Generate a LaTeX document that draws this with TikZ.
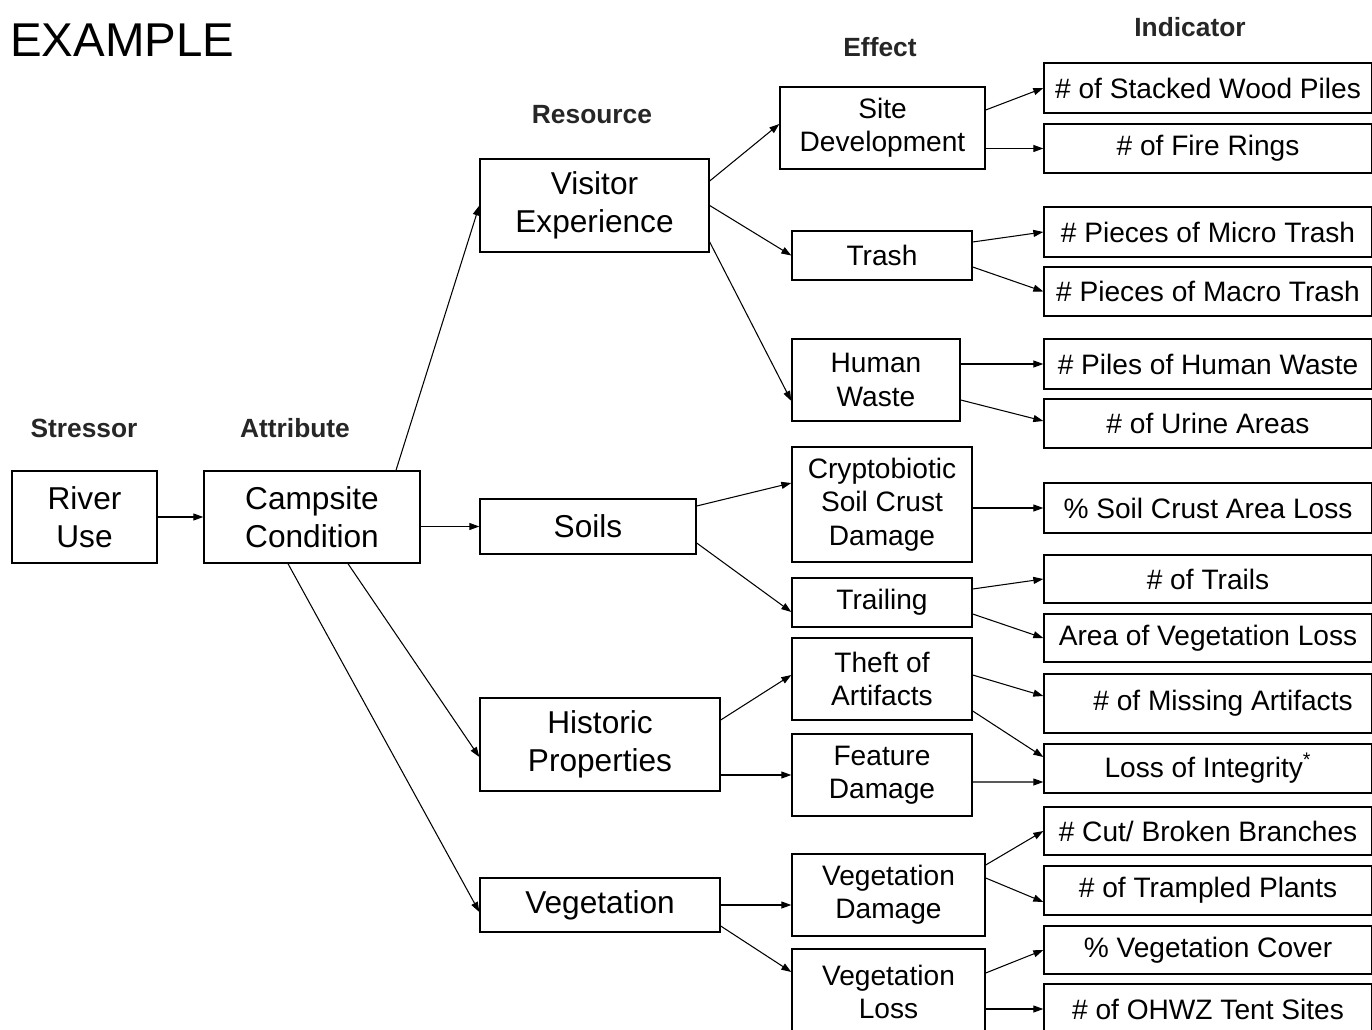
\documentclass[tikz,border=0pt]{standalone}
\usepackage{fontspec}
\setmainfont{Liberation Sans}
\usepackage{tikz}
\usetikzlibrary{arrows.meta}
\tikzstyle{box}=[draw=black, rectangle, line width=0.8pt, inner sep=0pt, align=center]
\tikzstyle{bigtext}=[font=\fontsize{18}{21.6}\selectfont]
\tikzstyle{smalltext}=[font=\fontsize{16}{19}\selectfont]
\tikzstyle{indic}=[box, smalltext, minimum width=6.56cm]
\tikzstyle{head}=[font=\bfseries\fontsize{15}{18}\selectfont, text=black!85]
\tikzstyle{arrow}=[draw=black, line width=0.6pt, -{Triangle[length=2mm, width=1.4mm]}]

\begin{document}
\begin{tikzpicture}[x=0.02cm, y=-0.02cm]
		   \useasboundingbox (0,0) rectangle (1372,1030);
		   \begin{scope}
			   % column headings
			   \node (title) at (10, 40)[anchor=west, inner sep=0pt, font=\fontsize{27}{30}\selectfont] {EXAMPLE};
			   \node (hstress) at (84, 428)[head] {Stressor};
			   \node (hattr) at (295, 428)[head] {Attribute};
			   \node (hres) at (592, 115)[head] {Resource};
			   \node (heff) at (880, 47)[head] {Effect};
			   \node (hind) at (1190, 27)[head] {Indicator};
		   \end{scope}
		   \begin{scope}
			   % stressor, attribute, resources
			   \node (river) at (84.5, 517)[box, bigtext, minimum width=2.9cm, minimum height=1.84cm] {River\\Use};
			   \node (camp) at (312, 517)[box, bigtext, minimum width=4.32cm, minimum height=1.84cm] {Campsite\\Condition};
			   \node (visit) at (594.5, 205.5)[box, bigtext, minimum width=4.58cm, minimum height=1.86cm] {Visitor\\Experience};
			   \node (soils) at (588, 526.5)[box, bigtext, minimum width=4.32cm, minimum height=1.1cm] {Soils};
			   \node (hist) at (600, 744.5)[box, bigtext, minimum width=4.8cm, minimum height=1.86cm] {Historic\\Properties};
			   \node (veg) at (600, 905)[box, bigtext, minimum width=4.8cm, minimum height=1.08cm] {Vegetation};
		   \end{scope}
		   \begin{scope}
			   % effects
			   \node (site) at (882.5, 128)[box, smalltext, minimum width=4.1cm, minimum height=1.64cm] {Site\\Development};
			   \node (trash) at (882, 255.5)[box, smalltext, minimum width=3.6cm, minimum height=0.98cm] {Trash};
			   \node (human) at (876, 380)[box, smalltext, minimum width=3.36cm, minimum height=1.64cm] {Human\\Waste};
			   \node (crypto) at (882, 504.5)[box, smalltext, minimum width=3.6cm, minimum height=2.3cm] {Cryptobiotic\\Soil Crust\\Damage};
			   \node (trail) at (882, 602.5)[box, smalltext, minimum width=3.6cm, minimum height=0.98cm] {Trailing};
			   \node (theft) at (882, 679)[box, smalltext, minimum width=3.6cm, minimum height=1.64cm] {Theft of\\Artifacts};
			   \node (feat) at (882, 775)[box, smalltext, minimum width=3.6cm, minimum height=1.64cm] {Feature\\Damage};
			   \node (vdam) at (888.5, 895)[box, smalltext, minimum width=3.86cm, minimum height=1.64cm] {Vegetation\\Damage};
			   \node (vloss) at (888.5, 992)[box, smalltext, minimum width=3.86cm, minimum height=1.72cm] {Vegetation\\Loss};
		   \end{scope}
		   \begin{scope}
			   % indicators
			   \node (wood) at (1208, 88)[indic, minimum height=1cm] {\# of Stacked Wood Piles};
			   \node (fire) at (1208, 148.5)[indic, minimum height=0.98cm] {\# of Fire Rings};
			   \node (micro) at (1208, 232)[indic, minimum height=1cm] {\# Pieces of Micro Trash};
			   \node (macro) at (1208, 291.5)[indic, minimum height=0.98cm] {\# Pieces of Macro Trash};
			   \node (piles) at (1208, 364)[indic, minimum height=1cm] {\# Piles of Human Waste};
			   \node (urine) at (1208, 423.5)[indic, minimum height=0.98cm] {\# of Urine Areas};
			   \node (crust) at (1208, 508)[indic, minimum height=1cm] {\% Soil Crust Area Loss};
			   \node (trails) at (1208, 579)[indic, minimum height=0.96cm] {\# of Trails};
			   \node (area) at (1208, 638)[indic, minimum height=0.96cm] {Area of Vegetation Loss};
			   \node (missing) at (1208, 703.5)[indic, minimum height=1.18cm] {\hspace*{0.6cm}\# of Missing Artifacts};
			   \node (integ) at (1208, 768.5)[indic, minimum height=0.98cm] {Loss of Integrity\textsuperscript{*}};
			   \node (branch) at (1208, 831)[indic, minimum height=0.96cm] {\# Cut/ Broken Branches};
			   \node (plants) at (1208, 890.5)[indic, minimum height=0.98cm] {\# of Trampled Plants};
			   \node (cover) at (1208, 950)[indic, minimum height=0.96cm] {\% Vegetation Cover};
			   \node (tents) at (1208, 1009)[indic, minimum height=1cm] {\# of OHWZ Tent Sites};
		   \end{scope}
		   \begin{scope}
			   \path [arrow] (river.east) -- (camp.west);
			   \path [arrow] (camp.east |- soils.west) -- (soils.west);
			   \path [arrow] ([xshift=1.68cm]camp.north) -- (visit.west);
			   \path [arrow] ([xshift=0.72cm]camp.south) -- ([yshift=-0.25cm]hist.west);
			   \path [arrow] ([xshift=-0.48cm]camp.south) -- ([yshift=-0.14cm]veg.west);
			   \path [arrow] ([yshift=0.49cm]visit.east) -- ([yshift=0.08cm]site.west);
			   \path [arrow] (visit.east) -- (trash.west);
			   \path [arrow] ([yshift=-0.73cm]visit.east) -- ([yshift=-0.42cm]human.west);
			   \path [arrow] ([yshift=0.41cm]soils.east) -- ([yshift=0.43cm]crypto.west);
			   \path [arrow] ([yshift=-0.33cm]soils.east) -- ([yshift=-0.19cm]trail.west);
			   \path [arrow] ([yshift=0.49cm]hist.east) -- ([yshift=0.08cm]theft.west);
			   \path [arrow] (hist.east |- feat.west) -- (feat.west);
			   \path [arrow] (veg.east) -- (veg.east -| vdam.west);
			   \path [arrow] ([yshift=-0.42cm]veg.east) -- ([yshift=0.4cm]vloss.west);
		   \end{scope}
		   \begin{scope}
			   \path [arrow] ([yshift=0.36cm]site.east) -- (wood.west);
			   \path [arrow] (site.east |- fire.west) -- (fire.west);
			   \path [arrow] ([yshift=0.27cm]trash.east) -- (micro.west);
			   \path [arrow] ([yshift=-0.23cm]trash.east) -- (macro.west);
			   \path [arrow] (human.east |- piles.west) -- (piles.west);
			   \path [arrow] ([yshift=-0.4cm]human.east) -- ([yshift=0.05cm]urine.west);
			   \path [arrow] (crypto.east |- crust.west) -- (crust.west);
			   \path [arrow] ([yshift=0.27cm]trail.east) -- (trails.west);
			   \path [arrow] ([yshift=-0.23cm]trail.east) -- (area.west);
			   \path [arrow] ([yshift=0.08cm]theft.east) -- ([yshift=0.15cm]missing.west);
			   \path [arrow] ([yshift=-0.64cm]theft.east) -- ([yshift=0.23cm]integ.west);
			   \path [arrow] ([yshift=-0.14cm]feat.east) -- ([yshift=-0.27cm]integ.west);
			   \path [arrow] ([yshift=0.6cm]vdam.east) -- (branch.west);
			   \path [arrow] ([yshift=0.34cm]vdam.east) -- ([yshift=-0.23cm]plants.west);
			   \path [arrow] ([yshift=0.38cm]vloss.east) -- (cover.west);
			   \path [arrow] (vloss.east |- tents.west) -- (tents.west);
		   \end{scope}
\end{tikzpicture}
\end{document}
